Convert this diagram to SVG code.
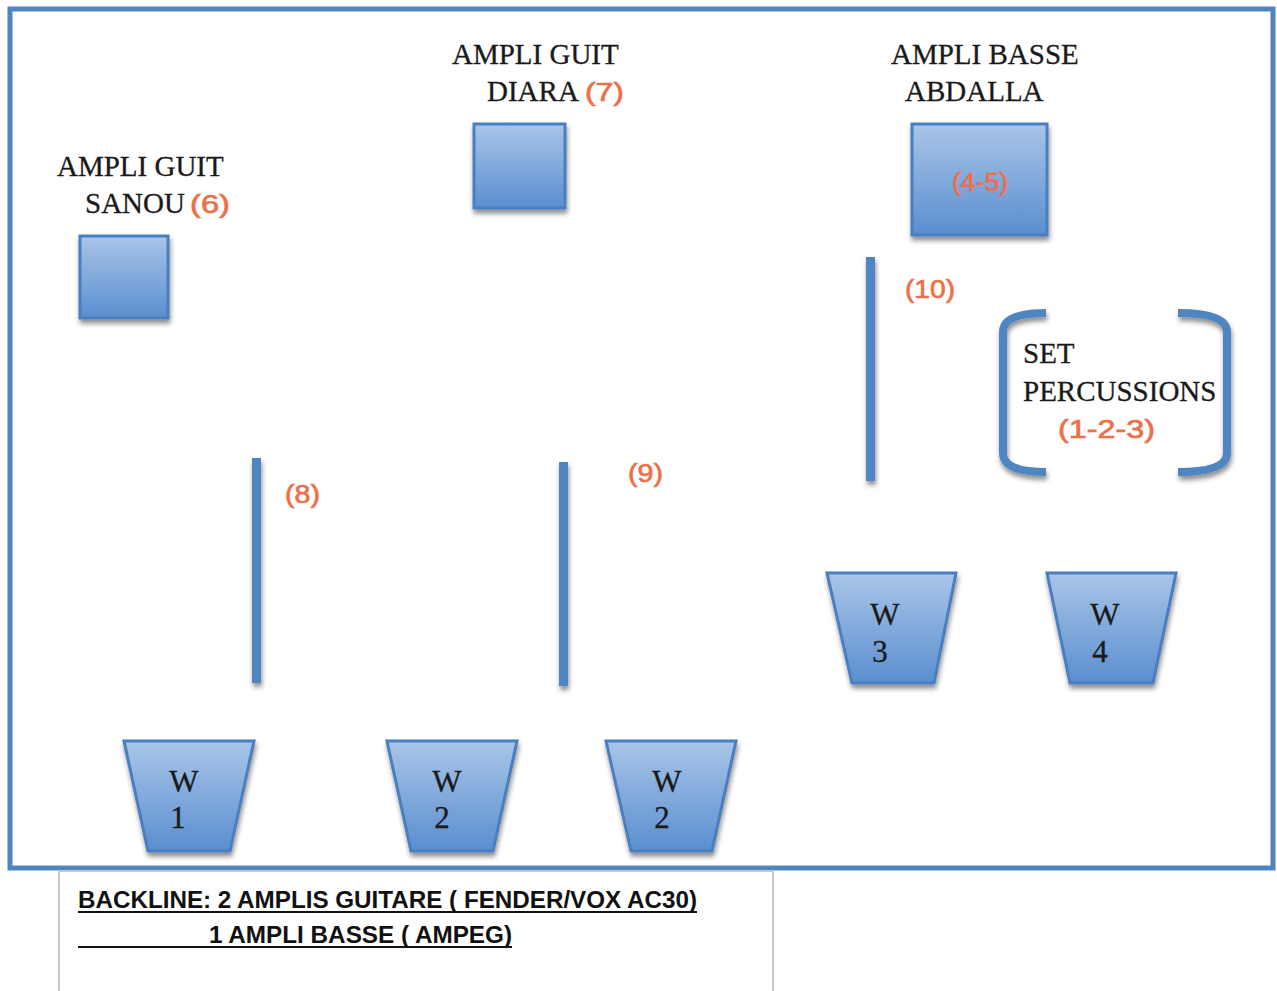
<svg xmlns="http://www.w3.org/2000/svg" width="1277" height="991" viewBox="0 0 1277 991">
<defs>
<linearGradient id="g" x1="0" y1="0" x2="0" y2="1">
<stop offset="0" stop-color="#a9c5e8"/>
<stop offset="1" stop-color="#5a8ed0"/>
</linearGradient>
<filter id="sh" x="-50%" y="-20%" width="200%" height="140%">
<feDropShadow dx="1" dy="4" stdDeviation="2.5" flood-color="#000" flood-opacity="0.45"/>
</filter>
<style>
.box{fill:url(#g);stroke:#4a7fbf;stroke-width:3;filter:url(#sh)}
.bar{fill:#4f86c2;filter:url(#sh)}
.br{stroke:#4f86c2;stroke-width:8;fill:none;stroke-linecap:butt;filter:url(#sh)}
.t{font-family:"Liberation Serif","DejaVu Serif",serif;font-size:29px;fill:#1a1a1a;stroke:#1a1a1a;stroke-width:0.3}
.w{font-family:"Liberation Serif","DejaVu Serif",serif;font-size:31px;fill:#1a1a1a;text-anchor:middle;stroke:#1a1a1a;stroke-width:0.3}
.o{font-family:"Liberation Sans","DejaVu Sans",sans-serif;font-size:26px;fill:#ec7049;stroke:#ec7049;stroke-width:0.7}
.b{font-family:"Liberation Sans","DejaVu Sans",sans-serif;font-size:23px;font-weight:bold;fill:#111}
</style>
</defs>
<rect x="0" y="0" width="1277" height="991" fill="#fff"/>
<rect id="frame" x="10" y="9" width="1263" height="859" fill="#fff" stroke="#4f86c2" stroke-width="5"/>

<g id="ampli-sanou">
<rect class="box" x="80" y="236" width="88" height="82"/>
<text class="t" x="57" y="176">AMPLI GUIT</text>
<text class="t" x="85" y="213">SANOU</text>
<text class="o" x="190" y="213" textLength="40" lengthAdjust="spacingAndGlyphs">(6)</text>
</g>

<g id="ampli-diara">
<rect class="box" x="474" y="124" width="91" height="84"/>
<text class="t" x="452" y="64">AMPLI GUIT</text>
<text class="t" x="487" y="101">DIARA</text>
<text class="o" x="585" y="101" textLength="39" lengthAdjust="spacingAndGlyphs">(7)</text>
</g>

<g id="ampli-abdalla">
<rect class="box" x="912" y="124" width="135" height="111"/>
<text class="t" x="891" y="64">AMPLI BASSE</text>
<text class="t" x="905" y="101">ABDALLA</text>
<text class="o" x="952" y="191" textLength="56" lengthAdjust="spacingAndGlyphs" font-size="24">(4-5)</text>
</g>

<g id="percussions">
<path class="br" d="M1046,313 Q1003,313 1003,332 L1003,453 Q1003,472 1046,472"/>
<path class="br" d="M1178,313 Q1227,313 1227,332 L1227,453 Q1227,472 1178,472"/>
<text class="t" x="1023" y="363">SET</text>
<text class="t" x="1023" y="401">PERCUSSIONS</text>
<text class="o" x="1058" y="438" textLength="97" lengthAdjust="spacingAndGlyphs" font-size="28">(1-2-3)</text>
</g>

<g id="connectors">
<rect class="bar" x="252" y="458" width="9" height="225"/>
<rect class="bar" x="559" y="462" width="9" height="224"/>
<rect class="bar" x="866" y="257" width="9" height="224"/>
</g>

<g id="labels">
<text class="o" x="285" y="503" textLength="35" lengthAdjust="spacingAndGlyphs" font-size="24">(8)</text>
<text class="o" x="628" y="482" textLength="35" lengthAdjust="spacingAndGlyphs" font-size="24">(9)</text>
<text class="o" x="905" y="298" textLength="50" lengthAdjust="spacingAndGlyphs" font-size="24">(10)</text>
</g>

<g id="w1">
<polygon class="box" points="124,741 254,741 230,851 148,851"/>
<text class="w" x="184" y="792">W</text>
<text class="w" x="178" y="828">1</text>
</g>
<g id="w2a">
<polygon class="box" points="387,741 517,741 493,851 411,851"/>
<text class="w" x="447" y="792">W</text>
<text class="w" x="442" y="828">2</text>
</g>
<g id="w2b">
<polygon class="box" points="606,741 736,741 712,851 631,851"/>
<text class="w" x="667" y="792">W</text>
<text class="w" x="662" y="828">2</text>
</g>
<g id="w3">
<polygon class="box" points="827,573 956,573 934,683 852,683"/>
<text class="w" x="885" y="625">W</text>
<text class="w" x="880" y="662">3</text>
</g>
<g id="w4">
<polygon class="box" points="1047,573 1176,573 1153,683 1070,683"/>
<text class="w" x="1105" y="625">W</text>
<text class="w" x="1100" y="662">4</text>
</g>

<g id="backline">
<rect x="59" y="871" width="714" height="130" fill="#fff" stroke="#c9c9c9" stroke-width="2"/>
<text class="b" x="78" y="908" textLength="619" lengthAdjust="spacingAndGlyphs">BACKLINE: 2 AMPLIS GUITARE ( FENDER/VOX AC30)</text>
<line x1="78" y1="912" x2="697" y2="912" stroke="#111" stroke-width="2"/>
<text class="b" x="209" y="943" textLength="303" lengthAdjust="spacingAndGlyphs">1 AMPLI BASSE ( AMPEG)</text>
<line x1="78" y1="947" x2="512" y2="947" stroke="#111" stroke-width="2"/>
</g>
</svg>
